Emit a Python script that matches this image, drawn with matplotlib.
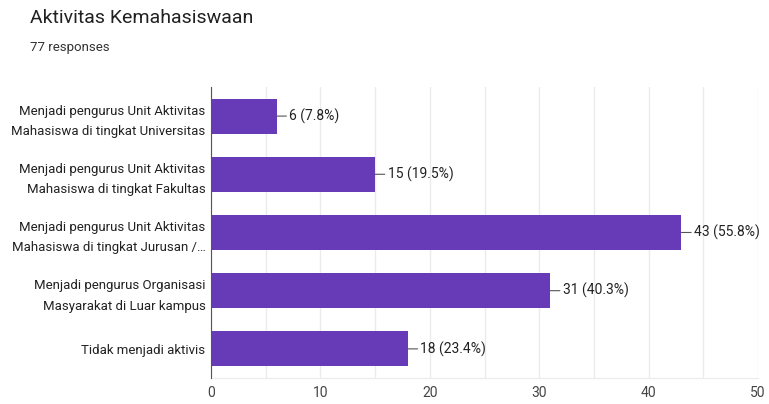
import matplotlib.pyplot as plt

plt.rcParams['font.family'] = ['Roboto', 'DejaVu Sans']

categories = [
    "Menjadi pengurus Unit Aktivitas\nMahasiswa di tingkat Universitas",
    "Menjadi pengurus Unit Aktivitas\nMahasiswa di tingkat Fakultas",
    "Menjadi pengurus Unit Aktivitas\nMahasiswa di tingkat Jurusan /\u2026",
    "Menjadi pengurus Organisasi\nMasyarakat di Luar kampus",
    "Tidak menjadi aktivis",
]
counts = [6, 15, 43, 31, 18]
percents = ["7.8%", "19.5%", "55.8%", "40.3%", "23.4%"]
xticks = [0, 10, 20, 30, 40, 50]

fig = plt.figure(figsize=(7.69, 4.04), dpi=100)
ax = fig.add_axes([0.2744, 0.0644, 0.7113, 0.7203])

y = list(range(len(categories)))
ax.barh(y, counts, height=0.6, color="#673ab7", zorder=3)

for yi, c, p in zip(y, counts, percents):
    ax.annotate(f"{c} ({p})", xy=(c, yi), xytext=(9, 0), textcoords="offset points",
                va="center", ha="left", fontsize=10, color="#222222",
                arrowprops=dict(arrowstyle="-", color="#555555", lw=0.8,
                                shrinkA=0, shrinkB=0))

ax.set_xlim(0, 50)
ax.set_ylim(4.5, -0.5)
ax.set_yticks(y)
ax.set_yticklabels(categories, fontsize=9.5, color="#222222")
for t in ax.get_yticklabels():
    t.set_multialignment("right")
    t.set_linespacing(1.75)
ax.set_xticks(xticks)
ax.set_xticks(range(5, 50, 10), minor=True)
ax.tick_params(axis="x", which="both", length=0, labelsize=10, labelcolor="#444444", pad=6)
ax.tick_params(axis="y", length=0, pad=4)
ax.grid(axis="x", which="both", color="#ebebeb", lw=1, zorder=0)
for s in ["top", "right"]:
    ax.spines[s].set_visible(False)
ax.spines["bottom"].set_color("#ebebeb")
ax.spines["left"].set_color("#555555")
ax.spines["left"].set_zorder(4)

fig.text(30 / 769, 1 - 18 / 404, "Aktivitas Kemahasiswaan", fontsize=14, color="#212121", va="center")
fig.text(30 / 769, 1 - 47 / 404, "77 responses", fontsize=9.5, color="#333333", va="center")

fig.savefig("out.png", dpi=100)
